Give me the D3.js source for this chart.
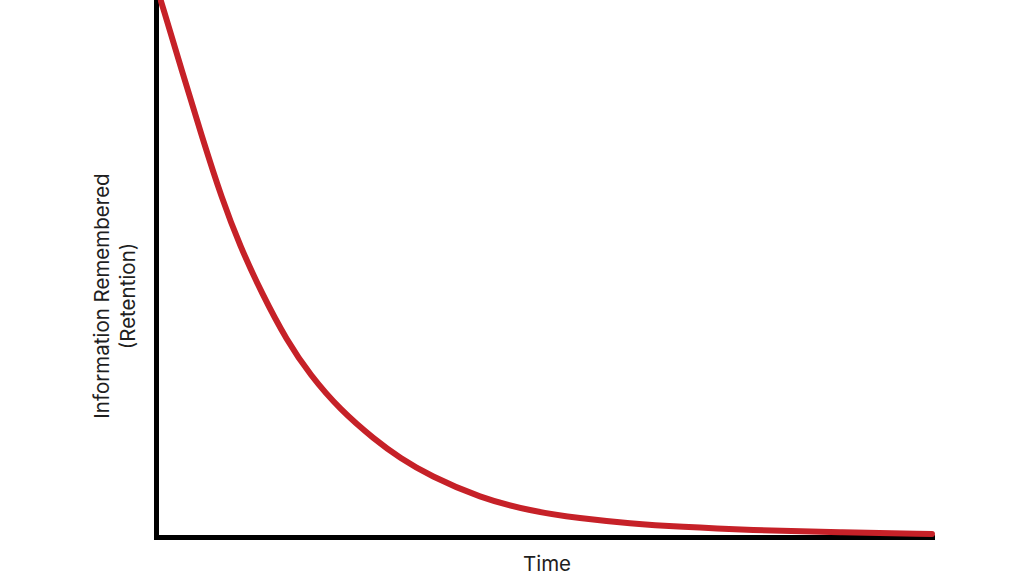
<!DOCTYPE html>
<html lang="en">
<head>
    <meta charset="UTF-8">
    <title>Forgetting curve</title>
    <script src="https://d3js.org/d3.v7.min.js"></script>
    <style>
        html, body { margin: 0; padding: 0; background: #fff; }
        svg { display: block; }
        text { font-family: Inter, "Noto Sans", sans-serif; fill: #1f1f1f; }
    </style>
</head>
<body>
    <div id="chart"></div>
    <script>
        // values (time and retention, 0-100)
        var time      = [0.64, 3.35, 5.93, 8.51, 10.82, 13.66, 16.88, 19.85, 23.71, 28.22,
                         31.44, 35.31, 41.75, 48.2, 54.64, 61.08, 67.53, 76.55, 88.14, 100];
        var retention = [99.8, 86.8, 74.5, 62.9, 54.2, 45.3, 36.5, 30.2, 23.7, 18.1,
                         14.7, 11.4, 7.3, 4.84, 3.46, 2.53, 1.9, 1.3, 0.84, 0.56];
        var xLabel = "Time";
        var yLabel = ["Information Remembered", "(Retention)"];

        var width = 1024, height = 576;

        var svg = d3.select("#chart")
            .append("svg")
            .attr("width", width)
            .attr("height", height);

        var xscale = d3.scaleLinear()
            .domain([0, 100])
            .range([156, 932]);

        var yscale = d3.scaleLinear()
            .domain([0, 100])
            .range([537, 0]);

        var x_axis = d3.axisBottom(xscale).tickValues([]).tickSizeOuter(0);
        var y_axis = d3.axisLeft(yscale).tickValues([]).tickSizeOuter(0);

        var gx = svg.append("g")
            .attr("transform", "translate(0," + yscale(0) + ")")
            .call(x_axis);
        var gy = svg.append("g")
            .attr("transform", "translate(" + xscale(0) + ",0)")
            .call(y_axis);

        [gx, gy].forEach(function (g) {
            g.select(".domain")
                .attr("stroke", "#000")
                .attr("stroke-width", 5)
                .attr("stroke-linecap", "square");
        });

        var points = time.map(function (t, i) { return [t, retention[i]]; });

        var line = d3.line()
            .x(function (d) { return xscale(d[0]); })
            .y(function (d) { return yscale(d[1]); })
            .curve(d3.curveBasis);

        svg.append("path")
            .datum(points)
            .attr("d", line)
            .attr("fill", "none")
            .attr("stroke", "#c62128")
            .attr("stroke-width", 6)
            .attr("stroke-linecap", "round");

        // labels
        svg.append("text")
            .attr("x", (xscale(0) + xscale(100)) / 2 + 3)
            .attr("y", 571)
            .attr("text-anchor", "middle")
            .style("font-size", "20.5px")
            .text(xLabel);

        var ylab = svg.append("text")
            .attr("transform", "translate(109,296) rotate(-90)")
            .attr("text-anchor", "middle")
            .style("font-size", "20.5px");
        yLabel.forEach(function (s, i) {
            ylab.append("tspan")
                .attr("x", 0)
                .attr("dy", i === 0 ? 0 : 26)
                .text(s);
        });
    </script>
</body>
</html>
